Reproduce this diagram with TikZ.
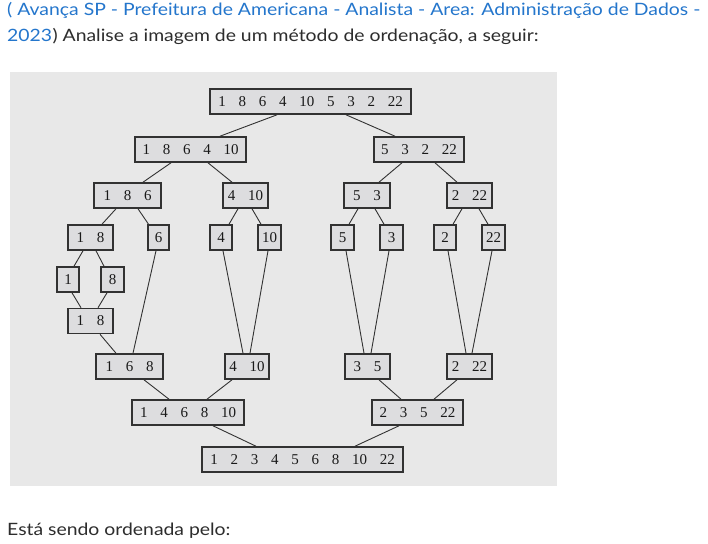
\documentclass[tikz,border=0pt]{standalone}
\usepackage{fontspec}
\setmainfont{Lato}[FakeStretch=1.14]
\newfontfamily\cellfont{Liberation Serif}
\definecolor{linkblue}{RGB}{36,118,204}
\definecolor{textgray}{RGB}{45,45,45}
\definecolor{panelgray}{RGB}{232,232,232}
\definecolor{cellgray}{RGB}{221,221,223}
\definecolor{edgegray}{RGB}{50,50,50}
\newcommand{\gp}{\hspace{0.85em}}
\tikzset{
  cell/.style={draw=edgegray, line width=1.6pt, fill=cellgray, rectangle,
    minimum height=25pt, inner xsep=3pt, inner ysep=0pt,
    font=\cellfont\fontsize{15}{15}\selectfont, text=black!90},
  link/.style={line width=0.9pt, draw=edgegray},
  txt/.style={anchor=base west, inner sep=0pt, font=\fontsize{17}{20}\selectfont}
}
\begin{document}
\begin{tikzpicture}[x=1pt, y=-1pt]
  % \draw[help lines] (0,0) grid[step=50] (708,543);
  \useasboundingbox[fill=white] (0,0) rectangle (708,543);
  \node at (7,15.7) [txt, text=linkblue] (head1)
  {( Avança SP - Prefeitura de Americana - Analista - Area: Administração de Dados -};
  \node at (7,41.7) [txt, text=linkblue] (year) {2023};
  \node [txt, text=textgray, anchor=base west] at (year.base east) (head2)
  {) Analise a imagem de um método de ordenação, a seguir:};
  \fill[panelgray] (10,72) rectangle (557,486);

  % splitting
  \node at (310.5,101.5) [cell, minimum width=201pt] (all)
  {1\gp8\gp6\gp4\gp10\gp5\gp3\gp2\gp22};
  \node at (190.5,149.5) [cell, minimum width=111pt] (a) {1\gp8\gp6\gp4\gp10};
  \node at (419,149.5) [cell, minimum width=90pt] (b) {5\gp3\gp2\gp22};
  \node at (127.5,195.5) [cell, minimum width=67pt] (aa) {1\gp8\gp6};
  \node at (245.5,195.5) [cell, minimum width=45pt] (ab) {4\gp10};
  \node at (367,195.5) [cell, minimum width=46pt] (ba) {5\gp3};
  \node at (469.5,195.5) [cell, minimum width=45pt] (bb) {2\gp22};
  \node at (90.5,237.5) [cell, minimum width=45pt] (aaa) {1\gp8};
  \node at (158.5,237.5) [cell, minimum width=21pt] (aab) {6};
  \node at (221,237.5) [cell, minimum width=22pt] (aba) {4};
  \node at (269.5,237.5) [cell, minimum width=23pt] (abb) {10};
  \node at (342.5,237.5) [cell, minimum width=23pt] (baa) {5};
  \node at (391.5,237.5) [cell, minimum width=23pt] (bab) {3};
  \node at (445,237.5) [cell, minimum width=22pt] (bba) {2};
  \node at (493.5,237.5) [cell, minimum width=23pt] (bbb) {22};
  \node at (68,279.5) [cell, minimum width=22pt] (one) {1};
  \node at (112.5,279.5) [cell, minimum width=23pt] (eight) {8};

  % merging
  \node at (90.5,321) [cell, minimum width=45pt] (m18) {1\gp8};
  \node at (129.5,366.5) [cell, minimum width=67pt] (m168) {1\gp6\gp8};
  \node at (247,366.5) [cell, minimum width=44pt] (m410) {4\gp10};
  \node at (367.5,366.5) [cell, minimum width=45pt] (m35) {3\gp5};
  \node at (469.5,366.5) [cell, minimum width=45pt] (m222) {2\gp22};
  \node at (188,412.5) [cell, minimum width=112pt] (left) {1\gp4\gp6\gp8\gp10};
  \node at (417.5,412.5) [cell, minimum width=91pt] (right) {2\gp3\gp5\gp22};
  \node at (302.5,459.5) [cell, minimum width=201pt] (sorted)
  {1\gp2\gp3\gp4\gp5\gp6\gp8\gp10\gp22};

  \node at (7,535) [txt, text=textgray] (ask) {Está sendo ordenada pelo:};

  \draw[link] ([xshift=-33.5pt]all.south) -- ([xshift=29.5pt]a.north);
  \draw[link] ([xshift=35.5pt]all.south) -- ([xshift=-24pt]b.north);
  \draw[link] ([xshift=-19.5pt]a.south) -- ([xshift=15.5pt]aa.north);
  \draw[link] ([xshift=17.5pt]a.south) -- ([xshift=-13.5pt]ab.north);
  \draw[link] ([xshift=-17pt]b.south) -- ([xshift=12pt]ba.north);
  \draw[link] ([xshift=16pt]b.south) -- ([xshift=-12.5pt]bb.north);
  \draw[link] ([xshift=-11.5pt]aa.south) -- ([xshift=11.5pt]aaa.north);
  \draw[link] ([xshift=10.5pt]aa.south) -- ([xshift=-10pt]aab.north);
  \draw[link] ([xshift=-7.5pt]ab.south) -- ([xshift=8pt]aba.north);
  \draw[link] ([xshift=6.5pt]ab.south) -- ([xshift=-8.5pt]abb.north);
  \draw[link] ([xshift=-9pt]ba.south) -- ([xshift=6.5pt]baa.north);
  \draw[link] ([xshift=8pt]ba.south) -- ([xshift=-7.5pt]bab.north);
  \draw[link] ([xshift=-7.5pt]bb.south) -- ([xshift=8pt]bba.north);
  \draw[link] ([xshift=9.5pt]bb.south) -- ([xshift=-5.5pt]bbb.north);
  \draw[link] ([xshift=-7.5pt]aaa.south) -- ([xshift=6pt]one.north);
  \draw[link] ([xshift=5.5pt]aaa.south) -- ([xshift=-8.5pt]eight.north);
  \draw[link] ([xshift=4pt]one.south) -- ([xshift=-9.5pt]m18.north);
  \draw[link] ([xshift=-5.5pt]eight.south) -- ([xshift=7.5pt]m18.north);
  \draw[link] ([xshift=9.5pt]m18.south) -- ([xshift=-13.5pt]m168.north);
  \draw[link] ([xshift=-2.5pt]aab.south) -- ([xshift=3.5pt]m168.north);
  \draw[link] ([xshift=2pt]aba.south) -- ([xshift=-4pt]m410.north);
  \draw[link] ([xshift=-1.5pt]abb.south) -- ([xshift=3pt]m410.north);
  \draw[link] ([xshift=3.5pt]baa.south) -- ([xshift=-3.5pt]m35.north);
  \draw[link] ([xshift=-2.5pt]bab.south) -- ([xshift=3.5pt]m35.north);
  \draw[link] ([xshift=3pt]bba.south) -- ([xshift=-3.5pt]m222.north);
  \draw[link] ([xshift=-1.5pt]bbb.south) -- ([xshift=2.5pt]m222.north);
  \draw[link] ([xshift=14.5pt]m168.south) -- ([xshift=-19pt]left.north);
  \draw[link] ([xshift=-15pt]m410.south) -- ([xshift=19pt]left.north);
  \draw[link] ([xshift=11.5pt]m35.south) -- ([xshift=-16.5pt]right.north);
  \draw[link] ([xshift=-12.5pt]m222.south) -- ([xshift=16.5pt]right.north);
  \draw[link] ([xshift=25pt]left.south) -- ([xshift=-46.5pt]sorted.north);
  \draw[link] ([xshift=-18.5pt]right.south) -- ([xshift=52.5pt]sorted.north);
\end{tikzpicture}
\end{document}
